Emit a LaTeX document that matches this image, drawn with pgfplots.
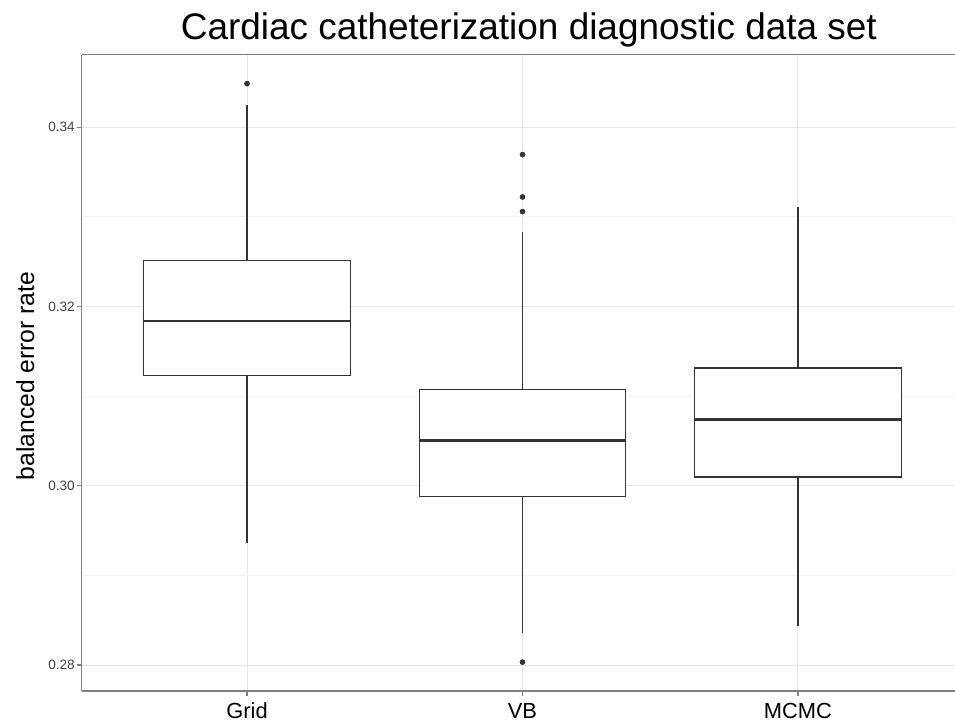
\documentclass[border=0pt]{standalone}
\usepackage{fontspec}
\setmainfont{Liberation Sans}
\usepackage{pgfplots}
\pgfplotsset{compat=1.18}
\definecolor{c333}{HTML}{333333}
\definecolor{g50}{HTML}{7F7F7F}
\definecolor{g90}{HTML}{E5E5E5}
\definecolor{g97}{HTML}{F3F3F3}
\begin{document}
\begin{tikzpicture}
\begin{axis}[name=ax, scale only axis, width=655pt, height=477.4pt,
  xmin=0.4, xmax=3.57, ymin=0.2771, ymax=0.3481,
  xtick={1,2,3}, xticklabels={Grid,VB,MCMC},
  ytick={0.28,0.30,0.32,0.34}, minor ytick={0.29,0.31,0.33},
  /pgf/number format/.cd, fixed, fixed zerofill, precision=2, assume math mode=true, /pgfplots/.cd,
  grid=both,
  major grid style={g90, line width=0.75pt},
  minor grid style={g97, line width=0.5pt},
  axis x line*=bottom, axis y line*=left,
  axis line style={g50, line width=0.8pt, -},
  tick align=outside, major tick length=3.5pt, minor tick length=0pt,
  tick style={g50, line width=0.8pt},
  xticklabel style={font=\fontsize{16.4}{19}\selectfont, text=black, anchor=base, yshift=-17pt},
  yticklabel style={font=\fontsize{10.2}{12}\selectfont, text=black!75, anchor=east, inner sep=0pt, xshift=-1.5pt},
  title={Cardiac catheterization diagnostic data set},
  title style={font=\fontsize{27.7}{32}\selectfont, at={(axis description cs:0.512,1)}, anchor=base, yshift=4.9pt, inner sep=0pt},
  ylabel={balanced error rate},
  ylabel style={font=\fontsize{18.5}{22}\selectfont, at={(axis description cs:-0.0546,0.495)}, anchor=base, inner sep=0pt},
  whisk/.style={c333, line width=0.9pt, mark=none},
  boxs/.style={draw=c333, fill=white, line width=1pt, mark=none},
  med/.style={c333, line width=2pt, mark=none},
  outl/.style={only marks, mark=*, mark size=1.9pt, mark options={draw=c333, fill=c333}},
]
\draw[g50, line width=0.8pt] (rel axis cs:0,1) -- (rel axis cs:1,1);
% Grid
\addplot[whisk] coordinates {(1,0.29359) (1,0.31232)};
\addplot[whisk] coordinates {(1,0.32515) (1,0.34243)};
\addplot[boxs] coordinates {(0.625,0.31232) (1.375,0.31232) (1.375,0.32515) (0.625,0.32515)} -- cycle;
\addplot[med] coordinates {(0.625,0.31838) (1.375,0.31838)};
\addplot[outl] coordinates {(1,0.34485)};
% VB
\addplot[whisk] coordinates {(2,0.28355) (2,0.29883)};
\addplot[whisk] coordinates {(2,0.31073) (2,0.32830)};
\addplot[boxs] coordinates {(1.625,0.29883) (2.375,0.29883) (2.375,0.31073) (1.625,0.31073)} -- cycle;
\addplot[med] coordinates {(1.625,0.30507) (2.375,0.30507)};
\addplot[outl] coordinates {(2,0.33694) (2,0.33221) (2,0.33058) (2,0.28032)};
% MCMC
\addplot[whisk] coordinates {(3,0.28433) (3,0.30098)};
\addplot[whisk] coordinates {(3,0.31314) (3,0.33109)};
\addplot[boxs] coordinates {(2.625,0.30098) (3.375,0.30098) (3.375,0.31314) (2.625,0.31314)} -- cycle;
\addplot[med] coordinates {(2.625,0.30738) (3.375,0.30738)};
\end{axis}
\pgfresetboundingbox
\path ([xshift=-61.3pt, yshift=-23.25pt]ax.south west) rectangle ([yshift=40.9pt]ax.north east);
\end{tikzpicture}
\end{document}
